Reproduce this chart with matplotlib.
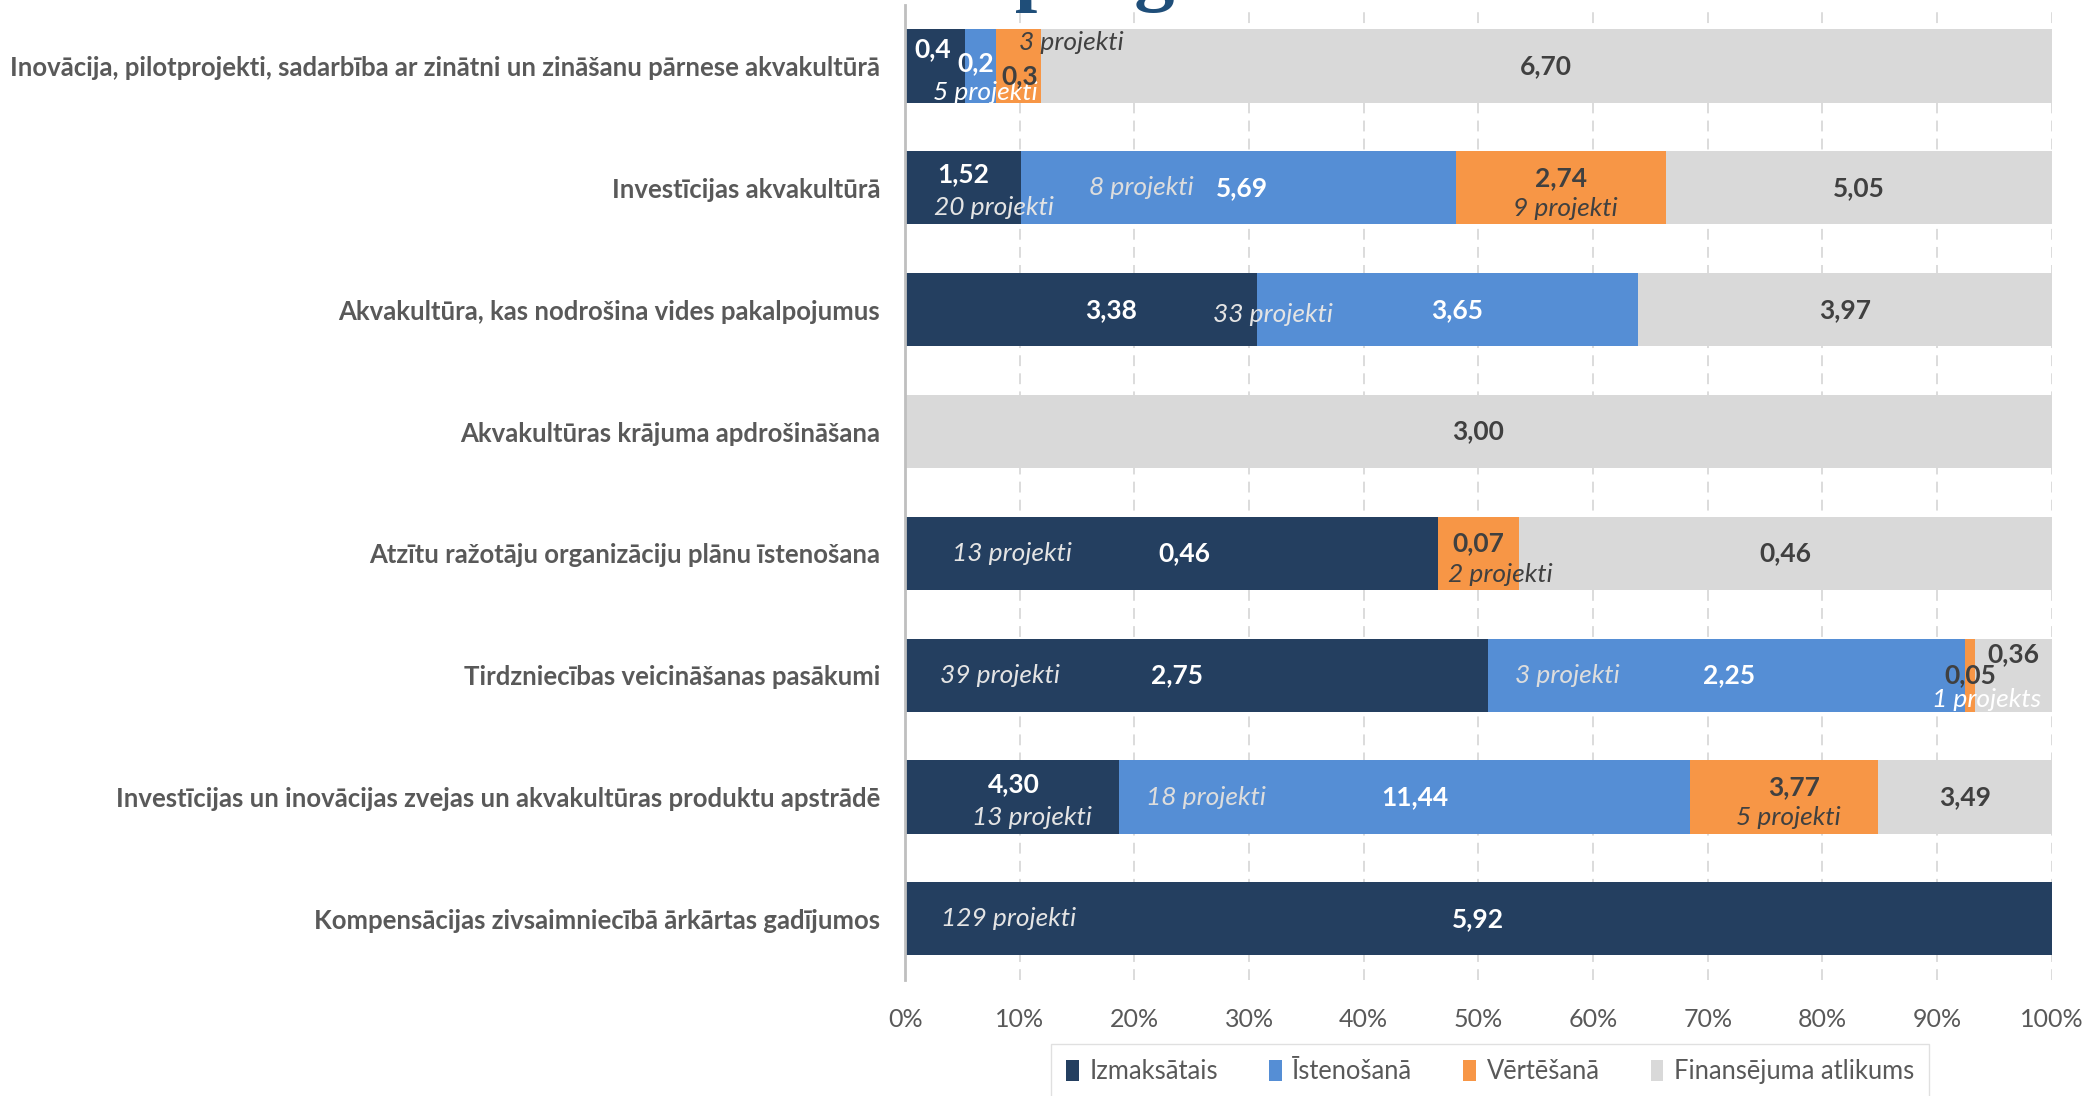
"""Stacked 100% bar chart: finansējuma izlietojums pa pasākumiem."""

import matplotlib
matplotlib.use("Agg")
import matplotlib.pyplot as plt
import numpy as np
from matplotlib.patches import Patch
from matplotlib.ticker import PercentFormatter

# --- data (top row first) ---
categories = [
    "Inovācija, pilotprojekti, sadarbība ar zinātni un zināšanu pārnese akvakultūrā",
    "Investīcijas akvakultūrā",
    "Akvakultūra, kas nodrošina vides pakalpojumus",
    "Akvakultūras krājuma apdrošināšana",
    "Atzītu ražotāju organizāciju plānu īstenošana",
    "Tirdzniecības veicināšanas pasākumi",
    "Investīcijas un inovācijas zvejas un akvakultūras produktu apstrādē",
    "Kompensācijas zivsaimniecībā ārkārtas gadījumos",
]
series_names = ["Izmaksātais", "Īstenošanā", "Vērtēšanā", "Finansējuma atlikums"]

paid = [0.4, 1.52, 3.38, 0, 0.46, 2.75, 4.30, 5.92]
implementing = [0.2, 5.69, 3.65, 0, 0, 2.25, 11.44, 0]
evaluating = [0.3, 2.74, 0, 0, 0.07, 0.05, 3.77, 0]
remaining = [6.70, 5.05, 3.97, 3.00, 0.46, 0.36, 3.49, 0]

paid_labels = ["0,4", "1,52", "3,38", "", "0,46", "2,75", "4,30", "5,92"]
implementing_labels = ["0,2", "5,69", "3,65", "", "", "2,25", "11,44", ""]
evaluating_labels = ["0,3", "2,74", "", "", "0,07", "0,05", "3,77", ""]
remaining_labels = ["6,70", "5,05", "3,97", "3,00", "0,46", "0,36", "3,49", ""]

paid_projects = ["5 projekti", "20 projekti", "33 projekti", "", "13 projekti",
                 "39 projekti", "13 projekti", "129 projekti"]
implementing_projects = ["", "8 projekti", "", "", "", "3 projekti", "18 projekti", ""]
evaluating_projects = ["3 projekti", "9 projekti", "", "", "2 projekti",
                       "1 projekts", "5 projekti", ""]

# --- style ---
colors = ["#243F60", "#558ED5", "#F79646", "#D9D9D9"]
value_colors = ["white", "white", "#404040", "#404040"]
project_colors = ["#E4E4E4", "#DDDDDD", "#404040", "#404040"]
label_grey = "#595959"

# label nudges from segment centre: (row, series) -> (dx in %, dy in bar units)
value_offsets = {
    (0, 0): (-0.2, -0.14), (0, 1): (-0.4, -0.02), (0, 2): (0.1, 0.08),
    (1, 0): (0, -0.11), (1, 1): (0.3, 0), (1, 2): (0, -0.08),
    (2, 0): (2.6, 0), (2, 1): (0.8, 0),
    (4, 0): (1.1, 0), (4, 2): (0, -0.08),
    (5, 0): (-1.7, 0), (5, 1): (0.2, 0), (5, 3): (0, -0.17),
    (6, 0): (0.15, -0.11), (6, 1): (0.9, 0), (6, 2): (0.9, -0.08),
}
project_offsets = {
    (0, 0): (4.4, 0.22), (0, 2): (4.6, -0.19),
    (1, 0): (2.7, 0.16), (1, 1): (-8.5, 0), (1, 2): (0.4, 0.17),
    (2, 0): (16.7, 0.04),
    (4, 0): (-13.9, 0), (4, 2): (1.9, 0.17),
    (5, 0): (-17.1, 0), (5, 1): (-13.9, 0), (5, 2): (1.4, 0.2),
    (6, 0): (1.75, 0.17), (6, 1): (-17.3, 0), (6, 2): (0.4, 0.17),
    (7, 0): (-41.0, 0),
}
project_color_override = {(0, 0): "white", (5, 2): "white"}

plt.rcParams["font.family"] = ["Lato", "DejaVu Sans"]

values = np.array([paid, implementing, evaluating, remaining], dtype=float)
shares = values / values.sum(axis=0) * 100
value_labels = [paid_labels, implementing_labels, evaluating_labels, remaining_labels]
project_labels = [paid_projects, implementing_projects, evaluating_projects, None]

fig = plt.figure(figsize=(21, 10.96), dpi=100)
ax = fig.add_axes([0.431, 0.106, 0.546, 0.8894])

y = np.arange(len(categories))
left = np.zeros(len(categories))
for s, name in enumerate(series_names):
    ax.barh(y, shares[s], left=left, height=0.6, color=colors[s], label=name, zorder=2)
    centres = left + shares[s] / 2
    for r in range(len(categories)):
        if value_labels[s][r]:
            dx, dy = value_offsets.get((r, s), (0, 0))
            ax.text(centres[r] + dx, y[r] + dy, value_labels[s][r], ha="center", va="center",
                    fontsize=19, fontweight="bold", color=value_colors[s], zorder=4)
        if project_labels[s] is not None and project_labels[s][r]:
            dx, dy = project_offsets.get((r, s), (0, 0))
            col = project_color_override.get((r, s), project_colors[s])
            ax.text(centres[r] + dx, y[r] + dy, project_labels[s][r], ha="center", va="center",
                    fontsize=19, fontstyle="italic", color=col, zorder=4)
    left += shares[s]

ax.set_xlim(0, 100)
ax.set_ylim(len(categories) - 0.5, -0.5)
ax.set_xticks(np.arange(0, 101, 10))
ax.xaxis.set_major_formatter(PercentFormatter(decimals=0))
ax.set_yticks(y)
ax.set_yticklabels(categories, fontsize=18.5, fontweight="bold", color=label_grey)
ax.tick_params(axis="y", length=0, pad=18)
ax.tick_params(axis="x", length=0, pad=20, labelsize=18, labelcolor=label_grey)
ax.grid(axis="x", color="#D9D9D9", linestyle=(0, (6, 4)), linewidth=1.3, zorder=0)
for side in ["top", "right", "bottom"]:
    ax.spines[side].set_visible(False)
ax.spines["left"].set_color("#BFBFBF")
ax.spines["left"].set_linewidth(2)

# cut-off heading above the chart
fig.text(0.4833, 1.0036, "progress", family=["Liberation Serif", "DejaVu Serif"],
         fontweight="bold", fontsize=58, color="#1F4E79", va="baseline", ha="left")

handles = [Patch(facecolor=c) for c in colors]
leg = fig.legend(handles, series_names, loc="upper center", bbox_to_anchor=(0.7096, 0.0474),
                 ncol=4, frameon=True, fancybox=False, edgecolor="#D9D9D9", fontsize=18.4,
                 handlelength=0.5, handleheight=0.9, handletextpad=0.4, columnspacing=2.0,
                 borderpad=0.6, borderaxespad=0)
for t in leg.get_texts():
    t.set_color(label_grey)

fig.savefig("out.png", dpi=100)
